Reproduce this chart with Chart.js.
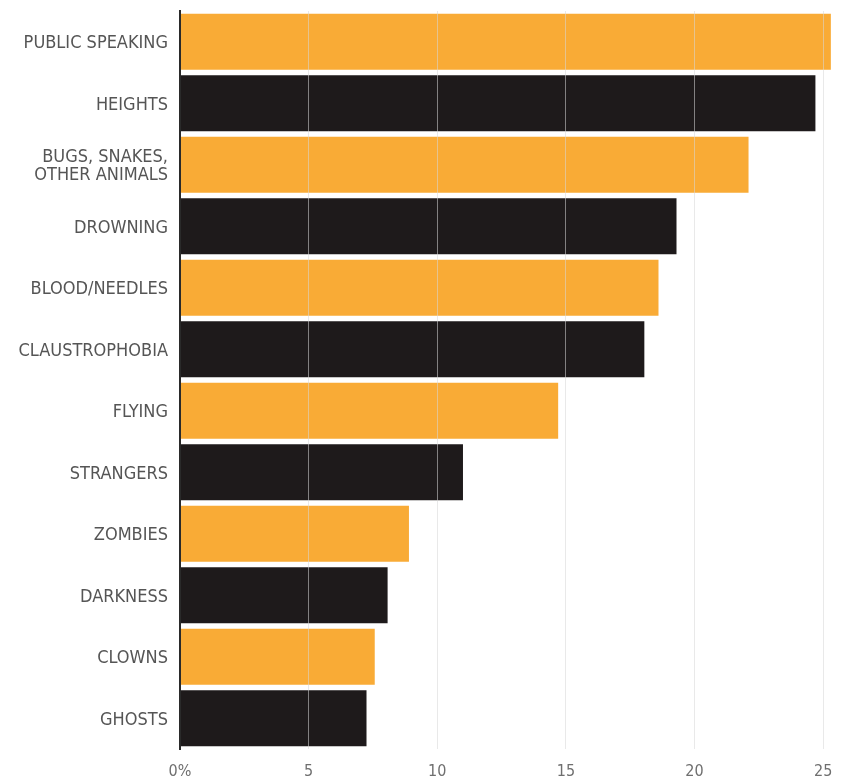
<!DOCTYPE html>
<html>
<head>
<meta charset="utf-8">
<script src="https://cdn.jsdelivr.net/npm/chart.js@4/dist/chart.umd.min.js"></script>
<style>
  html, body { margin: 0; padding: 0; background: #ffffff; }
  #wrap { width: 850px; height: 784px; }
</style>
</head>
<body>
<div id="wrap"><canvas id="c" width="850" height="784"></canvas></div>
<script>
// ---- data ----
const categories = [
  'PUBLIC SPEAKING',
  'HEIGHTS',
  ['BUGS, SNAKES,', 'OTHER ANIMALS'],
  'DROWNING',
  'BLOOD/NEEDLES',
  'CLAUSTROPHOBIA',
  'FLYING',
  'STRANGERS',
  'ZOMBIES',
  'DARKNESS',
  'CLOWNS',
  'GHOSTS'
];
const shareAfraid = [25.3, 24.7, 22.1, 19.3, 18.6, 18.05, 14.7, 11.0, 8.9, 8.07, 7.57, 7.25];
const tickValues = [0, 5, 10, 15, 20, 25];
const tickLabels = ['0%', '5', '10', '15', '20', '25'];

// ---- styles ----
const ORANGE = '#f9ab36';
const BLACK = '#1e1a1b';

function pickFont() {
  const ctx = document.createElement('canvas').getContext('2d');
  const sample = 'PUBLIC SPEAKING 0123';
  function differs(name) {
    ctx.font = '18px monospace';
    const a = ctx.measureText(sample).width;
    ctx.font = '18px "' + name + '", monospace';
    const b = ctx.measureText(sample).width;
    return Math.abs(a - b) > 0.5;
  }
  if (differs('DejaVu Sans Condensed')) return { family: '"DejaVu Sans Condensed", sans-serif', label: 18, tick: 16 };
  if (differs('Liberation Sans Narrow')) return { family: '"Liberation Sans Narrow", sans-serif', label: 19, tick: 16 };
  return { family: '"Liberation Sans", Arial, sans-serif', label: 16, tick: 16 };
}

function build() {
  const F = pickFont();
  const barColors = categories.map((_, i) => (i % 2 === 0 ? ORANGE : BLACK));
  new Chart(document.getElementById('c'), {
    type: 'bar',
    data: {
      labels: categories,
      datasets: [{
        data: shareAfraid,
        backgroundColor: barColors,
        borderWidth: 0,
        barPercentage: 0.91,
        categoryPercentage: 1.0
      }]
    },
    options: {
      indexAxis: 'y',
      responsive: false,
      animation: false,
      events: [],
      layout: { padding: { top: 11, right: 14, bottom: 1.6, left: 0 } },
      plugins: { legend: { display: false }, tooltip: { enabled: false } },
      scales: {
        x: {
          type: 'linear',
          min: 0,
          max: 25.5,
          afterBuildTicks: (scale) => { scale.ticks = tickValues.map(v => ({ value: v })); },
          afterFit: (scale) => { scale.paddingLeft = 0; scale.paddingRight = 0; scale.height = 33.4; },
          ticks: {
            callback: (v) => tickLabels[tickValues.indexOf(v)],
            color: '#6f6f6f',
            font: { family: F.family, size: F.tick, lineHeight: 1.2 },
            padding: 13,
            maxRotation: 0
          },
          grid: {
            z: 1,
            color: (ctx) => (ctx.tick && ctx.tick.value === 0 ? 'rgba(0,0,0,0)' : 'rgba(215,215,215,0.55)'),
            lineWidth: 1,
            drawTicks: false
          },
          border: { display: false }
        },
        y: {
          afterFit: (scale) => { scale.width = 180; scale.paddingTop = 0; scale.paddingBottom = 0; },
          ticks: {
            color: '#555555',
            font: { family: F.family, size: F.label, lineHeight: 1.0 },
            padding: 12,
            labelOffset: 2
          },
          grid: { display: false, drawTicks: false },
          border: { display: true, color: '#2a2a2a', width: 2, z: 2 }
        }
      }
    }
  });
}

if (document.fonts && document.fonts.load) {
  Promise.all([
    document.fonts.load('18px "DejaVu Sans Condensed"'),
    document.fonts.load('18px "Liberation Sans"')
  ]).then(build, build);
} else {
  build();
}
</script>
</body>
</html>
